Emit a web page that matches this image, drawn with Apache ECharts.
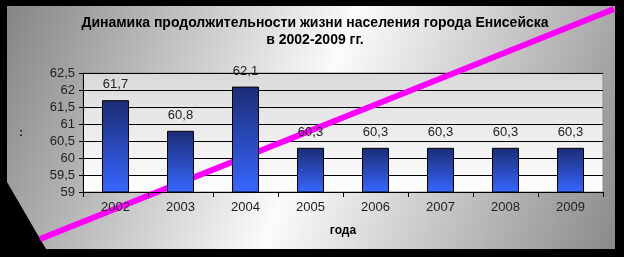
<!DOCTYPE html>
<html><head><meta charset="utf-8">
<script src="https://cdn.jsdelivr.net/npm/echarts@6/dist/echarts.min.js"></script>
<style>html,body{margin:0;padding:0;background:#000;}#c{width:624px;height:257px;}</style>
</head><body><div id="c"></div>
<script>
const categories = ['2002','2003','2004','2005','2006','2007','2008','2009'];
const lifeExpectancy = [61.7, 60.8, 62.1, 60.3, 60.3, 60.3, 60.3, 60.3];
const titleText = 'Динамика продолжительности жизни населения города Енисейска\nв 2002-2009 гг.';
const xName = 'года';
const yName = ':';
const yMin = 59, yMax = 62.5, yStep = 0.5;

const comma = v => String(v).replace('.', ',');
const chart = echarts.init(document.getElementById('c'), null, {renderer: 'canvas'});
chart.setOption({
  backgroundColor: '#000',
  animation: false,
  graphic: [
    {type: 'polygon', z: -10, silent: true,
     shape: {points: [[7,6],[615,6],[615,249],[46,249],[7,182]]},
     style: {fill: {type: 'linear', x: 0, y: 0, x2: 1, y2: 1, colorStops: [
       {offset: 0, color: '#858585'}, {offset: 0.5, color: '#fbfbfb'}, {offset: 1, color: '#8a8a8a'}]}}},
    {type: 'line', z: 1, silent: true,
     shape: {x1: 40, y1: 239, x2: 614, y2: 9},
     style: {stroke: '#ff00ff', lineWidth: 6}}
  ],
  title: {
    text: titleText, left: 310, textAlign: 'center', top: 10,
    textStyle: {fontFamily: 'Liberation Sans, Arial', fontWeight: 'bold', fontSize: 14, color: '#000', lineHeight: 17}
  },
  grid: {left: 83, right: 21, top: 73, bottom: 65, show: true, z: 0,
    backgroundColor: {type: 'linear', x: 0, y: 0, x2: 0, y2: 1, colorStops: [
      {offset: 0, color: '#d9d9d9'}, {offset: 1, color: '#ffffff'}]},
    borderColor: '#8c8c8c', borderWidth: 1},
  xAxis: {
    type: 'category', data: categories, z: 3,
    name: xName, nameLocation: 'middle', nameGap: 33,
    nameTextStyle: {fontFamily: 'Liberation Sans, Arial', fontWeight: 'bold', fontSize: 12, color: '#000'},
    axisLine: {lineStyle: {color: '#000', width: 1}},
    axisTick: {show: true, alignWithLabel: false, length: 5, lineStyle: {color: '#000'}},
    axisLabel: {fontFamily: 'Liberation Sans, Arial', fontSize: 13, color: '#222', margin: 9}
  },
  yAxis: {
    type: 'value', min: yMin, max: yMax, interval: yStep, z: 0,
    name: yName, nameLocation: 'middle', nameGap: 60, nameRotate: 0,
    nameTextStyle: {fontFamily: 'Liberation Sans, Arial', fontWeight: 'bold', fontSize: 11, color: '#000'},
    axisLine: {show: true, lineStyle: {color: '#000', width: 1}},
    axisTick: {show: true, length: 4, lineStyle: {color: '#000'}},
    axisLabel: {fontFamily: 'Liberation Sans, Arial', fontSize: 13, color: '#222', margin: 8, formatter: v => comma(v)},
    splitLine: {show: true, lineStyle: {color: '#000', width: 1}}
  },
  series: [{
    type: 'bar', data: lifeExpectancy, barWidth: 27, z: 2,
    itemStyle: {
      color: {type: 'linear', x: 0, y: 0, x2: 0, y2: 1, colorStops: [
        {offset: 0, color: '#1b2c74'}, {offset: 1, color: '#3767ff'}]},
      borderColor: '#000', borderWidth: 1
    },
    label: {show: true, position: 'top', distance: 9, fontFamily: 'Liberation Sans, Arial', fontSize: 13, color: '#222',
      formatter: p => comma(p.value)}
  }]
});
</script></body></html>
